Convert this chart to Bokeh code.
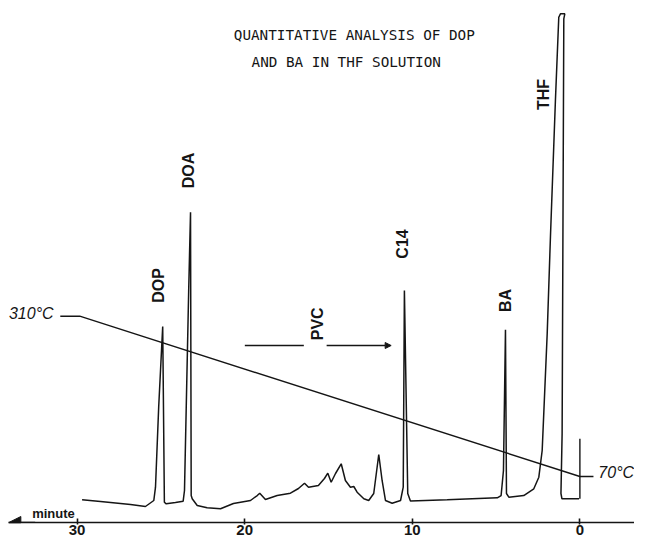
from bokeh.plotting import figure
from bokeh.models import Range1d, FixedTicker, Label, Arrow, NormalHead
from bokeh.core.properties import value
from bokeh.embed import file_html
from bokeh.resources import INLINE

# ---- data ----
# retention time (minute) and detector response (% of full scale)
time_min = [29.70, 28.60, 26.81, 25.92, 25.42, 25.32, 25.13, 24.89, 24.79, 24.68,
            24.13, 23.67, 23.59, 23.34, 23.23, 23.19, 23.13, 22.83, 22.24, 21.44,
            20.67, 19.65, 19.25, 19.10, 18.76, 18.06, 17.27, 16.79, 16.43, 16.19,
            15.60, 15.24, 15.04, 14.84, 14.58, 14.24, 13.99, 13.69, 13.49, 13.29,
            12.89, 12.60, 12.30, 12.00, 11.80, 11.60, 11.20, 10.70, 10.54, 10.47,
            10.27, 10.11, 7.92, 4.93, 4.70, 4.56, 4.44, 4.38, 4.24, 3.35,
            2.75, 2.45, 2.25, 1.95, 1.75, 1.46, 1.26, 1.16, 0.90, 0.96,
            1.06, 1.13, 1.07, 0.05]
signal = [5.88, 5.56, 4.98, 4.60, 5.75, 8.30, 23.62, 39.08, 5.42, 5.11,
          5.36, 5.61, 7.66, 45.98, 60.98, 6.70, 6.07, 4.79, 4.35, 4.16,
          5.17, 5.75, 6.70, 7.15, 5.94, 6.70, 7.15, 8.05, 9.06, 8.30,
          8.62, 9.96, 10.98, 9.25, 10.92, 12.78, 9.58, 8.30, 8.43, 7.34,
          6.07, 5.75, 7.09, 14.56, 9.58, 5.75, 5.23, 5.75, 8.30, 45.98,
          7.09, 5.65, 5.88, 6.26, 6.70, 11.49, 38.45, 7.09, 6.38, 6.70,
          7.99, 10.21, 15.33, 37.74, 56.90, 82.38, 98.33, 98.98, 98.98, 98.03,
          18.58, 7.09, 6.07, 6.07]

# injection mark
inject_time = [0.0, 0.0]
inject_signal = [6.07, 17.6]

# oven temperature programme
temp_time = [31.0, 29.84, 0.0, -0.81]
temp_c = [310, 310, 70, 70]

# peak labels
peak_names = ["DOP", "DOA", "PVC", "C14", "BA", "THF"]
label_time = [25.14, 23.38, 15.63, 10.60, 4.44, 2.17]
label_signal = [46.93, 68.97, 39.6, 54.89, 44.06, 83.52]

# PVC elution range
pvc_start, pvc_gap_left, pvc_gap_right, pvc_end = 19.99, 16.47, 15.11, 11.26
pvc_level = 35.44

tick_values = [30, 20, 10, 0]
title_lines = ["QUANTITATIVE ANALYSIS OF DOP", "AND BA IN THF SOLUTION"]

# ---- figure ----
FRAME_W, FRAME_H = 626, 522
y_start = (530 - FRAME_H) / 5.22
y_end = 530 / 5.22
temp_top = 310 + 315.7 / 0.668
temp_bot = 70 - (FRAME_H - 476) / 0.668

p = figure(frame_width=FRAME_W, frame_height=FRAME_H, output_backend="svg",
           toolbar_location=None,
           x_range=Range1d(34.09, -3.258), y_range=Range1d(y_start, y_end),
           y_axis_location=None, min_border_left=8, min_border_right=0,
           min_border_top=0, min_border_bottom=0)
p.extra_y_ranges = {"temp": Range1d(temp_bot, temp_top)}
p.outline_line_color = None
p.xgrid.visible = False
p.ygrid.visible = False
p.background_fill_color = "white"

ink = "#151515"

ax = p.xaxis[0]
ax.ticker = FixedTicker(ticks=tick_values)
ax.axis_line_width = 1.6
ax.axis_line_color = ink
ax.major_tick_line_width = 1.6
ax.major_tick_line_color = ink
ax.major_tick_in = 4
ax.major_tick_out = 2
ax.minor_tick_line_color = None
ax.major_label_standoff = 0
ax.major_label_text_font = "Liberation Sans"
ax.major_label_text_font_style = "bold"
ax.major_label_text_font_size = "15px"
ax.major_label_text_color = ink

p.line(time_min, signal, line_color=ink, line_width=1.5)
p.line(inject_time, inject_signal, line_color=ink, line_width=1.4)
p.line(temp_time, temp_c, y_range_name="temp", line_color=ink, line_width=1.4)

p.text(x=label_time, y=label_signal, text=peak_names, angle=1.5708,
       text_align="center", text_baseline="middle",
       text_font=value("Liberation Sans"), text_font_style="bold",
       text_font_size="16px", text_color=ink)

p.segment(x0=[pvc_start], y0=[pvc_level], x1=[pvc_gap_left], y1=[pvc_level],
          line_color=ink, line_width=1.4)
p.add_layout(Arrow(end=NormalHead(size=6, line_color=ink, fill_color=ink),
                   x_start=pvc_gap_right, y_start=pvc_level, x_end=pvc_end, y_end=pvc_level,
                   line_color=ink, line_width=1.4))

# axis arrow (time runs right to left)
p.add_layout(Arrow(end=NormalHead(size=12, line_color=ink, fill_color=ink),
                   x_start=32.5, y_start=y_start, x_end=34.07, y_end=y_start,
                   line_color=ink, line_width=1.6))

p.add_layout(Label(x=32.68, y=3.26, text="minute", text_font="Liberation Sans",
                   text_font_style="bold", text_font_size="13px", text_color=ink,
                   text_baseline="middle"))

p.add_layout(Label(x=31.4, y=314.0, y_range_name="temp", text="310°C",
                   text_font="Liberation Sans", text_font_style="italic",
                   text_font_size="16px", text_color=ink, text_align="right",
                   text_baseline="middle"))
p.add_layout(Label(x=-1.1, y=76.0, y_range_name="temp", text="70°C",
                   text_font="Liberation Sans", text_font_style="italic",
                   text_font_size="16px", text_color=ink, text_align="left",
                   text_baseline="middle"))

p.add_layout(Label(x=20.65, y=94.83, text=title_lines[0], text_font="DejaVu Sans Mono",
                   text_font_size="14.3px", text_color=ink, text_baseline="middle"))
p.add_layout(Label(x=19.59, y=89.66, text=title_lines[1], text_font="DejaVu Sans Mono",
                   text_font_size="14.3px", text_color=ink, text_baseline="middle"))

open("out.html", "w").write(file_html(p, INLINE))
